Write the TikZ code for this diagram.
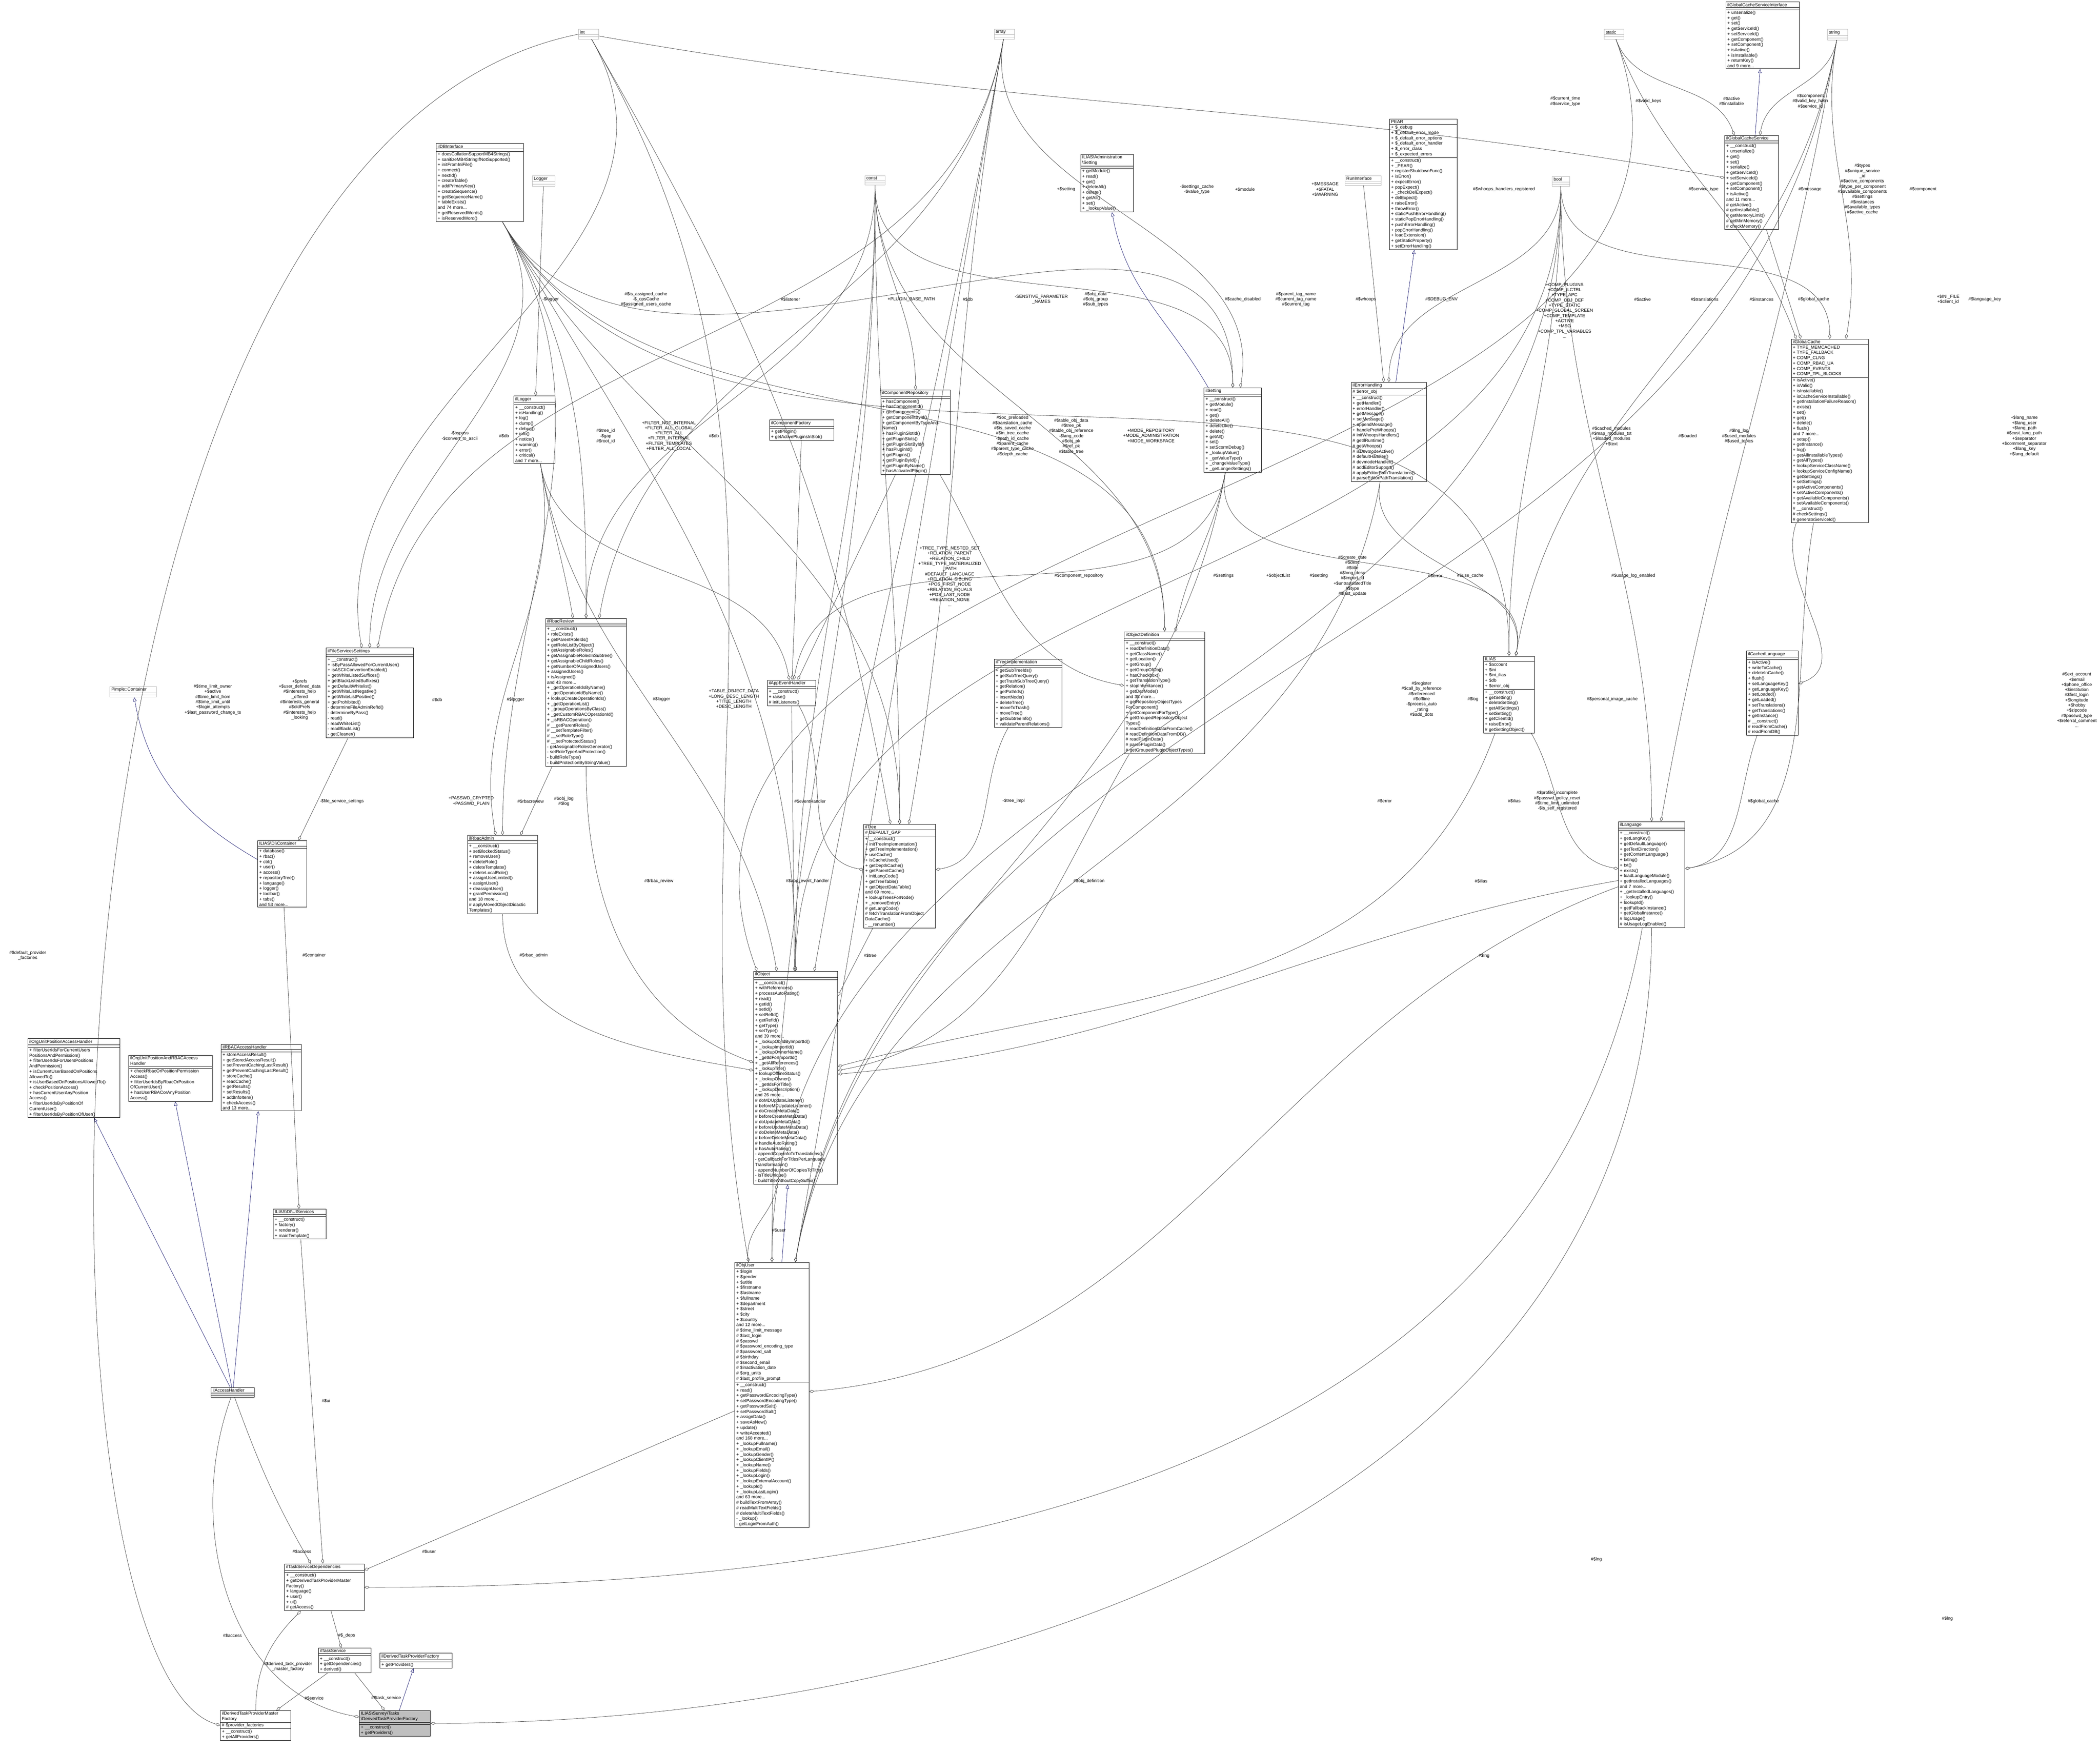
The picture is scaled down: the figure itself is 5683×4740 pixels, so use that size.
\documentclass[tikz,border=0pt]{standalone}
\usepackage{fontspec}
\setmainfont{Liberation Sans}
\usetikzlibrary{shapes.multipart,arrows.meta}
\definecolor{navyline}{RGB}{25,25,112}

\tikzset{
  classbox/.style={rectangle split, rectangle split parts=3, draw=black, line width=0.28pt,
    anchor=north west, inner xsep=1pt, inner ysep=0.6pt,
    rectangle split part align={center,left,left},
    rectangle split empty part height=2.3pt,
    font=\fontsize{3}{3.62}\selectfont},
  builtin/.style={draw=gray!55, line width=0.25pt},
  agg/.style={draw=black!75, line width=0.23pt, -{Diamond[open,length=3.5pt,width=2pt]}},
  inh/.style={draw=navyline, line width=0.23pt, -{Triangle[open,length=2.8pt,width=2.3pt]}},
  lbl/.style={align=center, inner sep=0pt, font=\fontsize{3}{3.5}\selectfont}
}
\newdimen\boxw
\newcommand{\umlclass}[6][]{\boxw=#4\relax\boxw=0.25\boxw
  \node[classbox,#1,text width=\the\boxw] (#2) at (#3) {#5\nodepart{two}#6};}
\newcommand{\elabel}[3]{\node[lbl] (#1) at (#2) {#3};}

\begin{document}
\begin{tikzpicture}[x=0.25pt,y=-0.25pt]
\useasboundingbox (0,0) rectangle (5683,4740);

% builtin types
\umlclass[builtin]{intType}{1565,79}{47pt}{int}{\nodepart{three}}
\umlclass[builtin]{arrayType}{2690,79}{47pt}{array}{\nodepart{three}}
\umlclass[builtin]{staticType}{4341,79}{45pt}{static}{\nodepart{three}}
\umlclass[builtin]{stringType}{4945,79}{47pt}{string}{\nodepart{three}}
\umlclass[builtin]{constType}{2340,475}{47pt}{const}{\nodepart{three}}
\umlclass[builtin]{boolType}{4200,477}{39pt}{bool}{\nodepart{three}}
\umlclass[builtin]{Logger}{1440,475}{53pt}{Logger}{\nodepart{three}}
\umlclass[builtin]{runInterface}{3639,475}{90pt}{RunInterface}{\nodepart{three}}
\umlclass[builtin]{pimple}{297,1857}{118pt}{Pimple::Container}{\nodepart{three}}

% classes, top row
\umlclass{gcsInterface}{4670,5}{191pt}{ilGlobalCacheServiceInterface}{\nodepart{three}+ unserialize()\\+ get()\\+ set()\\+ getServiceId()\\+ setServiceId()\\+ getComponent()\\+ setComponent()\\+ isActive()\\+ isInstallable()\\+ returnKey()\\and 9 more...}
\umlclass{gcService}{4667,366}{137pt}{ilGlobalCacheService}{\nodepart{three}+ \_\_construct()\\+ unserialize()\\+ get()\\+ set()\\+ serialize()\\+ getServiceId()\\+ setServiceId()\\+ getComponent()\\+ setComponent()\\+ isActive()\\and 11 more...\\\# getActive()\\\# getInstallable()\\\# getMemoryLimit()\\\# getMinMemory()\\\# checkMemory()}
\umlclass{globalCache}{4847,917}{200pt}{ilGlobalCache}{+ TYPE\_MEMCACHED\\+ TYPE\_FALLBACK\\+ COMP\_CLNG\\+ COMP\_RBAC\_UA\\+ COMP\_EVENTS\\+ COMP\_TPL\_BLOCKS\nodepart{three}+ isActive()\\+ isValid()\\+ isInstallable()\\+ isCacheServiceInstallable()\\+ getInstallationFailureReason()\\+ exists()\\+ set()\\+ get()\\+ delete()\\+ flush()\\and 7 more...\\+ setup()\\+ getInstance()\\+ log()\\+ getAllInstallableTypes()\\+ getAllTypes()\\+ lookupServiceClassName()\\+ lookupServiceConfigName()\\+ getSettings()\\+ setSettings()\\+ getActiveComponents()\\+ setActiveComponents()\\+ getAvailableComponents()\\+ setAvailableComponents()\\\# \_\_construct()\\\# checkSettings()\\\# generateServiceId()}
\umlclass{dbInterface}{1180,388}{228pt}{ilDBInterface}{\nodepart{three}+ doesCollationSupportMB4Strings()\\+ sanitizeMB4StringIfNotSupported()\\+ initFromIniFile()\\+ connect()\\+ nextId()\\+ createTable()\\+ addPrimaryKey()\\+ createSequence()\\+ getSequenceName()\\+ tableExists()\\and 74 more...\\+ getReservedWords()\\+ isReservedWord()}
\umlclass{adminSetting}{2924,417}{134pt}{ILIAS\textbackslash Administration\\\textbackslash Setting}{\nodepart{three}+ getModule()\\+ read()\\+ get()\\+ deleteAll()\\+ delete()\\+ getAll()\\+ set()\\+ \_lookupValue()}
\umlclass{pear}{3760,322}{175pt}{PEAR}{+ \$\_debug\\+ \$\_default\_error\_mode\\+ \$\_default\_error\_options\\+ \$\_default\_error\_handler\\+ \$\_error\_class\\+ \$\_expected\_errors\nodepart{three}+ \_\_construct()\\+ \_PEAR()\\+ registerShutdownFunc()\\+ isError()\\+ expectError()\\+ popExpect()\\+ \_checkDelExpect()\\+ delExpect()\\+ raiseError()\\+ throwError()\\+ staticPushErrorHandling()\\+ staticPopErrorHandling()\\+ pushErrorHandling()\\+ popErrorHandling()\\+ loadExtension()\\+ getStaticProperty()\\+ setErrorHandling()}

% second row
\umlclass{ilLogger}{1390,1071}{103pt}{ilLogger}{\nodepart{three}+ \_\_construct()\\+ isHandling()\\+ log()\\+ dump()\\+ debug()\\+ info()\\+ notice()\\+ warning()\\+ error()\\+ critical()\\and 7 more...}
\umlclass{compFactory}{2082,1136}{166pt}{ilComponentFactory}{\nodepart{three}+ getPlugin()\\+ getActivePluginsInSlot()}
\umlclass{compRepository}{2383,1055}{180pt}{ilComponentRepository}{\nodepart{three}+ hasComponent()\\+ hasComponentId()\\+ getComponents()\\+ getComponentById()\\+ getComponentByTypeAndName()\\+ hasPluginSlotId()\\+ getPluginSlots()\\+ getPluginSlotById()\\+ hasPluginId()\\+ getPlugins()\\+ getPluginById()\\+ getPluginByName()\\+ hasActivatedPlugin()}
\umlclass{ilSetting}{3258,1049}{147pt}{ilSetting}{\nodepart{three}+ \_\_construct()\\+ getModule()\\+ read()\\+ get()\\+ deleteAll()\\+ deleteLike()\\+ delete()\\+ getAll()\\+ set()\\+ setScormDebug()\\+ \_lookupValue()\\+ \_getValueType()\\+ \_changeValueType()\\+ \_getLongerSettings()}
\umlclass{errorHandling}{3656,1034}{196pt}{ilErrorHandling}{\# \$error\_obj\nodepart{three}+ \_\_construct()\\+ getHandler()\\+ errorHandler()\\+ getMessage()\\+ setMessage()\\+ appendMessage()\\+ handlePreWhoops()\\\# initWhoopsHandlers()\\\# getIlRuntime()\\\# getWhoops()\\\# isDevmodeActive()\\\# defaultHandler()\\\# devmodeHandler()\\\# addEditorSupport()\\\# applyEditorPathTranslations()\\\# parseEditorPathTranslation()}

% third row
\umlclass{fileSettings}{882,1753}{228pt}{ilFileServicesSettings}{\nodepart{three}+ \_\_construct()\\+ isByPassAllowedForCurrentUser()\\+ isASCIIConvertionEnabled()\\+ getWhiteListedSuffixes()\\+ getBlackListedSuffixes()\\+ getDefaultWhitelist()\\+ getWhiteListNegative()\\+ getWhiteListPositive()\\+ getProhibited()\\- determineFileAdminRefId()\\- determineByPass()\\- read()\\- readWhiteList()\\- readBlackList()\\- getCleaner()}
\umlclass{rbacReview}{1476,1673}{211pt}{ilRbacReview}{\nodepart{three}+ \_\_construct()\\+ roleExists()\\+ getParentRoleIds()\\+ getRoleListByObject()\\+ getAssignableRoles()\\+ getAssignableRolesInSubtree()\\+ getAssignableChildRoles()\\+ getNumberOfAssignedUsers()\\+ assignedUsers()\\+ isAssigned()\\and 43 more...\\+ \_getOperationIdsByName()\\+ \_getOperationIdByName()\\+ lookupCreateOperationIds()\\+ \_getOperationList()\\+ \_groupOperationsByClass()\\+ \_getCustomRBACOperationId()\\+ \_isRBACOperation()\\\# \_\_getParentRoles()\\\# \_\_setTemplateFilter()\\\# \_\_setRoleType()\\\# \_\_setProtectedStatus()\\- getAssignableRolesGenerator()\\- setRoleTypeAndProtection()\\- buildRoleType()\\- buildProtectionByStringValue()}
\umlclass{appEventHandler}{2076,1840}{123pt}{ilAppEventHandler}{\nodepart{three}+ \_\_construct()\\+ raise()\\\# initListeners()}
\umlclass{treeImpl}{2690,1783}{175pt}{ilTreeImplementation}{\nodepart{three}+ getSubTreeIds()\\+ getSubTreeQuery()\\+ getTrashSubTreeQuery()\\+ getRelation()\\+ getPathIds()\\+ insertNode()\\+ deleteTree()\\+ moveToTrash()\\+ moveTree()\\+ getSubtreeInfo()\\+ validateParentRelations()}
\umlclass{objDefinition}{3042,1709}{210pt}{ilObjectDefinition}{\nodepart{three}+ \_\_construct()\\+ readDefinitionData()\\+ getClassName()\\+ getLocation()\\+ getGroup()\\+ getGroupOfObj()\\+ hasCheckbox()\\+ getTranslationType()\\+ stopInheritance()\\+ getDevMode()\\and 38 more...\\+ getRepositoryObjectTypes\\ForComponent()\\+ getComponentForType()\\+ getGroupedRepositoryObject\\Types()\\\# readDefinitionDataFromCache()\\\# readDefinitionDataFromDB()\\\# readPluginData()\\\# parsePluginData()\\\# getGroupedPluginObjectTypes()}
\umlclass{ilias}{4014,1775}{130pt}{ILIAS}{+ \$account\\+ \$ini\\+ \$ini\_ilias\\+ \$db\\+ \$error\_obj\nodepart{three}+ \_\_construct()\\+ getSetting()\\+ deleteSetting()\\+ getAllSettings()\\+ setSetting()\\+ getClientId()\\+ raiseError()\\\# getSettingObject()}
\umlclass{cachedLanguage}{4726,1761}{132pt}{ilCachedLanguage}{\nodepart{three}+ isActive()\\+ writeToCache()\\+ deleteInCache()\\+ flush()\\+ setLanguageKey()\\+ getLanguageKey()\\+ setLoaded()\\+ getLoaded()\\+ setTranslations()\\+ getTranslations()\\+ getInstance()\\\# \_\_construct()\\\# readFromCache()\\\# readFromDB()}

% fourth row
\umlclass{diContainer}{697,2274}{125pt}{ILIAS\textbackslash DI\textbackslash Container}{\nodepart{three}+ database()\\+ rbac()\\+ ctrl()\\+ user()\\+ access()\\+ repositoryTree()\\+ language()\\+ logger()\\+ toolbar()\\+ tabs()\\and 53 more...}
\umlclass{rbacAdmin}{1265,2260}{181pt}{ilRbacAdmin}{\nodepart{three}+ \_\_construct()\\+ setBlockedStatus()\\+ removeUser()\\+ deleteRole()\\+ deleteTemplate()\\+ deleteLocalRole()\\+ assignUserLimited()\\+ assignUser()\\+ deassignUser()\\+ grantPermission()\\and 18 more...\\\# applyMovedObjectDidactic\\Templates()}
\umlclass{ilTree}{2337,2230}{186pt}{ilTree}{\# DEFAULT\_GAP\nodepart{three}+ \_\_construct()\\+ initTreeImplementation()\\+ getTreeImplementation()\\+ useCache()\\+ isCacheUsed()\\+ getDepthCache()\\+ getParentCache()\\+ initLangCode()\\+ getTreeTable()\\+ getObjectDataTable()\\and 69 more...\\+ lookupTreesForNode()\\+ \_removeEntry()\\\# getLangCode()\\\# fetchTranslationFromObject\\DataCache()\\- \_\_renumber()}
\umlclass{ilLanguage}{4379,2223}{172pt}{ilLanguage}{\nodepart{three}+ \_\_construct()\\+ getLangKey()\\+ getDefaultLanguage()\\+ getTextDirection()\\+ getContentLanguage()\\+ txtlng()\\+ txt()\\+ exists()\\+ loadLanguageModule()\\+ getInstalledLanguages()\\and 7 more...\\+ \_getInstalledLanguages()\\+ \_lookupEntry()\\+ lookupId()\\+ getFallbackInstance()\\+ getGlobalInstance()\\\# logUsage()\\\# isUsageLogEnabled()}

% access handlers
\umlclass{orgUnitHandler}{75,2810}{241pt}{ilOrgUnitPositionAccessHandler}{\nodepart{three}+ filterUserIdsForCurrentUsers\\PositionsAndPermission()\\+ filterUserIdsForUsersPositions\\AndPermission()\\+ isCurrentUserBasedOnPositions\\AllowedTo()\\+ isUserBasedOnPositionsAllowedTo()\\+ checkPositionAccess()\\+ hasCurrentUserAnyPosition\\Access()\\+ filterUserIdsByPositionOf\\CurrentUser()\\+ filterUserIdsByPositionOfUser()}
\umlclass{orgUnitRbacHandler}{348,2855}{218pt}{ilOrgUnitPositionAndRBACAccess\\Handler}{\nodepart{three}+ checkRbacOrPositionPermission\\Access()\\+ filterUserIdsByRbacOrPosition\\OfCurrentUser()\\+ hasUserRBACorAnyPosition\\Access()}
\umlclass{rbacHandler}{598,2825}{209pt}{ilRBACAccessHandler}{\nodepart{three}+ storeAccessResult()\\+ getStoredAccessResult()\\+ setPreventCachingLastResult()\\+ getPreventCachingLastResult()\\+ storeCache()\\+ readCache()\\+ getResults()\\+ setResults()\\+ addInfoItem()\\+ checkAccess()\\and 13 more...}
\umlclass{uiServices}{739,3271}{135pt}{ILIAS\textbackslash DI\textbackslash UIServices}{\nodepart{three}+ \_\_construct()\\+ factory()\\+ renderer()\\+ mainTemplate()}
\umlclass{accessHandler}{571,3754}{109pt}{ilAccessHandler}{\nodepart{three}}

% ilObject and ilObjUser
\umlclass{ilObject}{2039,2628}{219pt}{ilObject}{\nodepart{three}+ \_\_construct()\\+ withReferences()\\+ processAutoRating()\\+ read()\\+ getId()\\+ setId()\\+ setRefId()\\+ getRefId()\\+ getType()\\+ setType()\\and 39 more...\\+ \_lookupObjIdByImportId()\\+ \_lookupImportId()\\+ \_lookupOwnerName()\\+ \_getIdForImportId()\\+ \_getAllReferences()\\+ \_lookupTitle()\\+ lookupOfflineStatus()\\+ \_lookupOwner()\\+ \_getIdsForTitle()\\+ \_lookupDescription()\\and 26 more...\\\# doMDUpdateListener()\\\# beforeMDUpdateListener()\\\# doCreateMetaData()\\\# beforeCreateMetaData()\\\# doUpdateMetaData()\\\# beforeUpdateMetaData()\\\# doDeleteMetaData()\\\# beforeDeleteMetaData()\\\# handleAutoRating()\\\# hasAutoRating()\\- appendCopyInfoToTranslations()\\- getCallbackForTitlesPerLanguage\\Transformation()\\- appendNumberOfCopiesToTitle()\\- isTitleUnique()\\- buildTitleWithoutCopySuffix()}
\umlclass{ilObjUser}{1988,3415}{193pt}{ilObjUser}{+ \$login\\+ \$gender\\+ \$utitle\\+ \$firstname\\+ \$lastname\\+ \$fullname\\+ \$department\\+ \$street\\+ \$city\\+ \$country\\and 12 more...\\\# \$time\_limit\_message\\\# \$last\_login\\\# \$passwd\\\# \$password\_encoding\_type\\\# \$password\_salt\\\# \$birthday\\\# \$second\_email\\\# \$inactivation\_date\\\# \$org\_units\\\# \$last\_profile\_prompt\nodepart{three}+ \_\_construct()\\+ read()\\+ getPasswordEncodingType()\\+ setPasswordEncodingType()\\+ getPasswordSalt()\\+ setPasswordSalt()\\+ assignData()\\+ saveAsNew()\\+ update()\\+ writeAccepted()\\and 168 more...\\+ \_lookupFullname()\\+ \_lookupEmail()\\+ \_lookupGender()\\+ \_lookupClientIP()\\+ \_lookupName()\\+ \_lookupFields()\\+ \_lookupLogin()\\+ \_lookupExternalAccount()\\+ \_lookupId()\\+ \_lookupLastLogin()\\and 63 more...\\\# buildTextFromArray()\\\# readMultiTextFields()\\\# deleteMultiTextFields()\\- \_lookup()\\- getLoginFromAuth()}

% task service classes
\umlclass{taskDeps}{770,4231}{207pt}{ilTaskServiceDependencies}{\nodepart{three}+ \_\_construct()\\+ getDerivedTaskProviderMaster\\Factory()\\+ language()\\+ user()\\+ ui()\\\# getAccess()}
\umlclass{taskService}{861,4459}{135pt}{ilTaskService}{\nodepart{three}+ \_\_construct()\\+ getDependencies()\\+ derived()}
\umlclass{providerFactory}{1028,4473}{187pt}{ilDerivedTaskProviderFactory}{\nodepart{three}+ getProviders()}
\umlclass{masterFactory}{596,4628}{183pt}{ilDerivedTaskProviderMaster\\Factory}{\# \$provider\_factories\nodepart{three}+ \_\_construct()\\+ getAllProviders()}
\umlclass[fill=gray!50]{surveyFactory}{972,4628}{184pt}{ILIAS\textbackslash Survey\textbackslash Tasks\\\textbackslash DerivedTaskProviderFactory}{\nodepart{three}+ \_\_construct()\\+ getProviders()}

\coordinate (leftTop) at (40,400);
\coordinate (leftBottom) at (40,4500);

% inheritance
\draw[inh] (ilObjUser) -- (ilObject);
\draw[inh] (surveyFactory) -- (providerFactory);
\draw[inh] (diContainer) to[out=150,in=-80] (pimple);
\foreach \b in {orgUnitHandler,orgUnitRbacHandler,rbacHandler}
  \draw[inh] (accessHandler) -- (\b);
\draw[inh] (ilSetting) to[out=120,in=-80] (adminSetting);
\draw[inh] (errorHandling) -- (pear);
\draw[inh] (gcService) -- (gcsInterface);

% usage relations
\draw[agg] (ilObjUser) to[out=100,in=-100] (ilObject);
\draw[agg] (ilObjUser) -- (taskDeps);
\draw[agg] (accessHandler) to[out=-70,in=120] (taskDeps);
\draw[agg] (accessHandler) to[out=-110,in=170] (surveyFactory);
\draw[agg] (uiServices) -- (taskDeps);
\draw[agg] (taskDeps) -- (taskService);
\draw[agg] (taskService) -- (masterFactory);
\draw[agg] (taskService) -- (surveyFactory);
\draw[agg] (masterFactory) to[out=90,in=-135] (taskDeps);
\draw[agg] (intType.west) .. controls (leftTop) and (leftBottom) .. (masterFactory.west);
\draw[agg] (diContainer) -- (uiServices);
\draw[agg] (fileSettings) -- (diContainer);
\draw[agg] (rbacAdmin) to[out=-90,in=170] (ilObject);
\draw[agg] (rbacReview) to[out=-90,in=160] (ilObject);
\draw[agg] (rbacReview) -- (rbacAdmin);
\draw[agg] (Logger) -- (ilLogger);
\draw[agg] (appEventHandler) -- (ilObject);
\draw[agg] (appEventHandler) to[out=-60,in=170] (ilTree);
\draw[agg] (compFactory) -- (appEventHandler);
\draw[agg] (compRepository) -- (appEventHandler);
\draw[agg] (compRepository) to[out=-60,in=170] (objDefinition);
\draw[agg] (runInterface) -- (errorHandling);
\draw[agg] (ilTree) -- (ilObject);
\draw[agg] (treeImpl) to[out=-120,in=10] (ilTree);
\draw[agg] (objDefinition) to[out=-120,in=10] (ilObject);
\draw[agg] (ilias) to[out=-110,in=15] (ilObject);
\draw[agg] (ilias) to[out=-60,in=170] (ilLanguage);
\draw[agg] (gcService) -- (globalCache);
\draw[agg] (globalCache) to[out=-110,in=20] (cachedLanguage);
\draw[agg] (globalCache) to[out=-100,in=10] (ilLanguage);
\draw[agg] (cachedLanguage) to[out=-110,in=10] (ilLanguage);
\draw[agg] (ilLanguage) to[out=-100,in=0] (taskDeps);
\draw[agg] (ilLanguage) to[out=-90,in=0] (surveyFactory);
\draw[agg] (ilLanguage) to[out=-160,in=5] (ilObjUser);
\draw[agg] (ilLanguage) to[out=-170,in=5] (ilObject);
\draw[agg] (intType) to[out=-10,in=170] (gcService);
\foreach \t in {rbacReview,rbacAdmin,fileSettings,ilTree,ilSetting,ilias,ilObject,objDefinition}
  \draw[agg] (dbInterface) to[out=-60,in=90] (\t);
\foreach \t in {rbacReview,rbacAdmin,appEventHandler,ilObject}
  \draw[agg] (ilLogger) to[out=-80,in=100] (\t);
\foreach \t in {appEventHandler,objDefinition,ilias,ilObjUser}
  \draw[agg] (ilSetting) to[out=-100,in=80] (\t);
\foreach \t in {ilias,ilObjUser}
  \draw[agg] (errorHandling) to[out=-100,in=80] (\t);
\foreach \t in {compRepository,ilTree,ilObject,rbacReview,ilObjUser,objDefinition,ilSetting}
  \draw[agg] (constType) to[out=-90,in=90] (\t);
\foreach \t in {errorHandling,globalCache,ilLanguage,ilObjUser,ilObject,ilias}
  \draw[agg] (boolType) to[out=-90,in=90] (\t);
\foreach \t in {gcService,globalCache,ilLanguage,ilObjUser,ilias}
  \draw[agg] (stringType) to[out=-100,in=80] (\t);
\foreach \t in {gcService,globalCache,ilObject}
  \draw[agg] (staticType) to[out=-70,in=110] (\t);
\foreach \t in {ilTree,ilSetting,ilObject,fileSettings,rbacReview,ilObjUser}
  \draw[agg] (arrayType) to[out=-100,in=80] (\t);
\foreach \t in {ilObjUser,ilTree,fileSettings}
  \draw[agg] (intType) to[out=-60,in=100] (\t);

% labels
\elabel{l1}{817,4198}{\#\$access}
\elabel{l2}{1161,4198}{\#\$user}
\elabel{l3}{629,4426}{\#\$access}
\elabel{l4}{938,4426}{\#\$\_deps}
\elabel{l5}{779,4510}{\#\$derived\_task\_provider\\\_master\_factory}
\elabel{l6}{850,4595}{\#\$service}
\elabel{l7}{1045,4595}{\#\$task\_service}
\elabel{l8}{2108,3329}{\#\$user}
\elabel{l9}{2192,2168}{\#\$eventHandler}
\elabel{l10}{2185,2384}{\#\$app\_event\_handler}
\elabel{l11}{2355,2586}{\#\$tree}
\elabel{l12}{2743,2167}{-\$tree\_impl}
\elabel{l13}{1490,810}{-\$logger}
\elabel{l14}{1748,810}{\#\$is\_assigned\_cache\\-\$\_opsCache\\\#\$assigned\_users\_cache}
\elabel{l15}{2139,810}{\#\$listener}
\elabel{l16}{2466,810}{+PLUGIN\_BASE\_PATH}
\elabel{l17}{1244,1180}{-\$bypass\\-\$convert\_to\_ascii}
\elabel{l18}{1364,1180}{\#\$db}
\elabel{l19}{1639,1180}{\#\$tree\_id\\-\$gap\\\#\$root\_id}
\elabel{l20}{1810,1180}{+FILTER\_NOT\_INTERNAL\\+FILTER\_ALL\_GLOBAL\\+FILTER\_ALL\\+FILTER\_INTERNAL\\+FILTER\_TEMPLATES\\+FILTER\_ALL\_LOCAL}
\elabel{l21}{1932,1180}{\#\$db}
\elabel{l22}{2570,1560}{+TREE\_TYPE\_NESTED\_SET\\+RELATION\_PARENT\\+RELATION\_CHILD\\+TREE\_TYPE\_MATERIALIZED\\\_PATH\\\#DEFAULT\_LANGUAGE\\+RELATION\_SIBLING\\+POS\_FIRST\_NODE\\+RELATION\_EQUALS\\+POS\_LAST\_NODE\\+RELATION\_NONE\\...}
\elabel{l23}{2885,512}{+\$setting}
\elabel{l24}{3239,512}{-\$settings\_cache\\-\$value\_type}
\elabel{l25}{3369,512}{+\$module}
\elabel{l26}{3586,512}{+\$MESSAGE\\+\$FATAL\\+\$WARNING}
\elabel{l27}{4070,512}{\#\$whoops\_handlers\_registered}
\elabel{l28}{2619,810}{\#\$db}
\elabel{l29}{2818,810}{-SENSTIVE\_PARAMETER\\\_NAMES}
\elabel{l30}{2965,810}{\#\$obj\_data\\\#\$obj\_group\\\#\$sub\_types}
\elabel{l31}{3363,810}{\#\$cache\_disabled}
\elabel{l32}{3507,810}{\#\$parent\_tag\_name\\\#\$current\_tag\_name\\\#\$current\_tag}
\elabel{l33}{3696,810}{\#\$whoops}
\elabel{l34}{3901,810}{\#\$DEBUG\_ENV}
\elabel{l35}{2740,1180}{\#\$oc\_preloaded\\\#\$translation\_cache\\\#\$is\_saved\_cache\\\#\$in\_tree\_cache\\-\$path\_id\_cache\\\#\$parent\_cache\\\#\$parent\_type\_cache\\\#\$depth\_cache}
\elabel{l36}{2899,1180}{\#\$table\_obj\_data\\\#\$tree\_pk\\\#\$table\_obj\_reference\\-\$lang\_code\\\#\$obj\_pk\\\#\$ref\_pk\\\#\$table\_tree}
\elabel{l37}{3115,1180}{+MODE\_REPOSITORY\\+MODE\_ADMINISTRATION\\+MODE\_WORKSPACE}
\elabel{l38}{4236,274}{\#\$current\_time\\\#\$service\_type}
\elabel{l39}{4461,274}{\#\$valid\_keys}
\elabel{l40}{4686,274}{\#\$active\\\#\$installable}
\elabel{l41}{4899,274}{\#\$component\\\#\$valid\_key\_hash\\\#\$service\_id}
\elabel{l42}{5040,512}{\#\$types\\\#\$unique\_service\\\_id\\\#\$active\_components\\\#\$type\_per\_component\\\#\$available\_components\\\#\$settings\\\#\$instances\\\#\$available\_types\\\#\$active\_cache}
\elabel{l43}{4610,512}{\#\$service\_type}
\elabel{l44}{4898,512}{\#\$message}
\elabel{l45}{5204,512}{\#\$component}
\elabel{l46}{4234,840}{+COMP\_PLUGINS\\+COMP\_ILCTRL\\+TYPE\_APC\\+COMP\_OBJ\_DEF\\+TYPE\_STATIC\\+COMP\_GLOBAL\_SCREEN\\+COMP\_TEMPLATE\\+ACTIVE\\+MSG\\+COMP\_TPL\_VARIABLES\\...}
\elabel{l47}{4445,810}{\#\$active}
\elabel{l48}{4613,810}{\#\$translations}
\elabel{l49}{4767,810}{\#\$instances}
\elabel{l50}{4908,810}{\#\$global\_cache}
\elabel{l51}{5272,810}{+\$INI\_FILE\\+\$client\_id}
\elabel{l52}{5371,810}{\#\$language\_key}
\elabel{l53}{4361,1180}{\#\$cached\_modules\\\#\$map\_modules\_txt\\+\$loaded\_modules\\+\$text}
\elabel{l54}{4567,1180}{\#\$loaded}
\elabel{l55}{4706,1180}{\#\$lng\_log\\\#\$used\_modules\\\#\$used\_topics}
\elabel{l56}{5478,1180}{+\$lang\_name\\+\$lang\_user\\+\$lang\_path\\\#\$cust\_lang\_path\\+\$separator\\+\$comment\_separator\\+\$lang\_key\\+\$lang\_default}
\elabel{l57}{576,1893}{\#\$time\_limit\_owner\\+\$active\\\#\$time\_limit\_from\\\#\$time\_limit\_until\\+\$login\_attempts\\+\$last\_password\_change\_ts}
\elabel{l58}{811,1893}{+\$prefs\\+\$user\_defined\_data\\\#\$interests\_help\\\_offered\\\#\$interests\_general\\\#\$oldPrefs\\\#\$interests\_help\\\_looking}
\elabel{l59}{1183,1893}{\#\$db}
\elabel{l60}{1395,1893}{\#\$logger}
\elabel{l61}{925,2168}{-\$file\_service\_settings}
\elabel{l62}{1275,2168}{+PASSWD\_CRYPTED\\+PASSWD\_PLAIN}
\elabel{l63}{1436,2168}{\#\$rbacreview}
\elabel{l64}{1526,2168}{\#\$obj\_log\\\#\$log}
\elabel{l65}{75,2585}{\#\$default\_provider\\\_factories}
\elabel{l66}{850,2585}{\#\$container}
\elabel{l67}{1444,2585}{\#\$rbac\_admin}
\elabel{l68}{1790,1892}{\#\$logger}
\elabel{l69}{1986,1892}{+TABLE\_OBJECT\_DATA\\+LONG\_DESC\_LENGTH\\+TITLE\_LENGTH\\+DESC\_LENGTH}
\elabel{l70}{1783,2384}{\#\$rbac\_review}
\elabel{l71}{2920,1558}{\#\$component\_repository}
\elabel{l72}{3311,1558}{\#\$settings}
\elabel{l73}{3459,1558}{+\$objectList}
\elabel{l74}{3569,1558}{\#\$setting}
\elabel{l75}{3660,1558}{\#\$create\_date\\\#\$desc\\\#\$title\\\#\$long\_desc\\\#\$import\_id\\+\$untranslatedTitle\\\#\$type\\\#\$last\_update}
\elabel{l76}{3884,1558}{\#\$error}
\elabel{l77}{3979,1558}{\#\$use\_cache}
\elabel{l78}{4420,1558}{\#\$usage\_log\_enabled}
\elabel{l79}{3847,1892}{\#\$register\\\#\$call\_by\_reference\\\#\$referenced\\\#\$offline\\-\$process\_auto\\\_rating\\\#\$add\_dots}
\elabel{l80}{3986,1892}{\#\$log}
\elabel{l81}{4363,1892}{\#\$personal\_image\_cache}
\elabel{l82}{4214,2167}{\#\$profile\_incomplete\\\#\$passwd\_policy\_reset\\\#\$time\_limit\_unlimited\\-\$is\_self\_registered}
\elabel{l83}{3747,2167}{\#\$error}
\elabel{l84}{4098,2167}{\#\$ilias}
\elabel{l85}{2947,2384}{\#\$obj\_definition}
\elabel{l86}{4008,2384}{\#\$ilias}
\elabel{l87}{4016,2586}{\#\$lng}
\elabel{l88}{4772,2168}{\#\$global\_cache}
\elabel{l89}{5620,1894}{\#\$ext\_account\\+\$email\\+\$phone\_office\\+\$institution\\\#\$first\_login\\+\$longitude\\+\$hobby\\+\$zipcode\\\#\$passwd\_type\\+\$referral\_comment\\...}
\elabel{l90}{882,3790}{\#\$ui}
\elabel{l91}{4320,4220}{\#\$lng}
\elabel{l92}{5270,4380}{\#\$lng}
\end{tikzpicture}
\end{document}
